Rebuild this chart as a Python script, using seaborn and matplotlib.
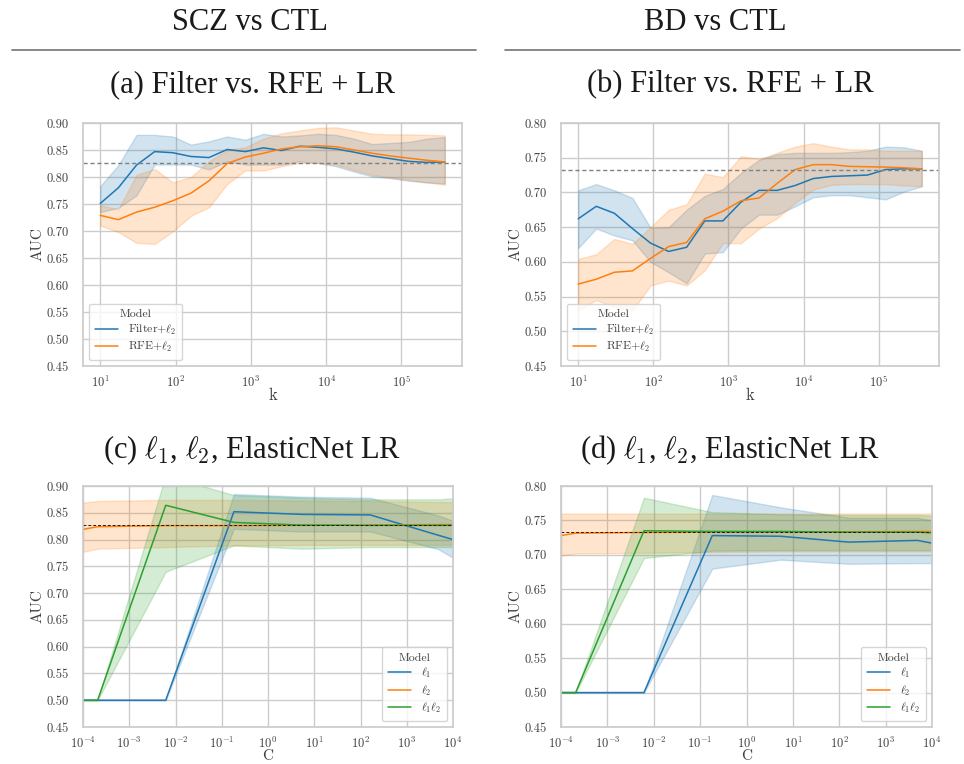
import numpy as np
import pandas as pd
import matplotlib
matplotlib.use("Agg")
import matplotlib.pyplot as plt
import seaborn as sns
from matplotlib.lines import Line2D
from matplotlib.ticker import MultipleLocator, FormatStrFormatter

# ---- data ----
# number of selected features k (top row) and regularisation C (bottom row)
k_vals = [10, 17.4, 30.3, 52.8, 91.9, 160, 278, 485, 844, 1469,
          2558, 4453, 7752, 13500, 23500, 40920, 71250, 124000, 215900, 375800]
c_vals = [1e-4, 2.07e-4, 6.15e-3, 0.183, 5.46, 162.6, 4831, 1e4]

# (a) SCZ vs CTL, Filter vs RFE
filter_a_mean = [0.751, 0.780, 0.822, 0.847, 0.845, 0.838, 0.836, 0.851, 0.847, 0.854,
                 0.849, 0.857, 0.855, 0.852, 0.846, 0.839, 0.834, 0.829, 0.827, 0.828]
filter_a_lo = [0.735, 0.743, 0.766, 0.823, 0.823, 0.823, 0.814, 0.829, 0.823, 0.823,
               0.823, 0.829, 0.826, 0.820, 0.810, 0.801, 0.798, 0.793, 0.790, 0.788]
filter_a_hi = [0.783, 0.822, 0.878, 0.878, 0.875, 0.860, 0.866, 0.875, 0.869, 0.880,
               0.875, 0.877, 0.880, 0.878, 0.871, 0.861, 0.863, 0.865, 0.871, 0.874]
rfe_a_mean = [0.729, 0.721, 0.735, 0.744, 0.756, 0.770, 0.793, 0.825, 0.837, 0.844,
              0.852, 0.856, 0.858, 0.856, 0.850, 0.844, 0.839, 0.835, 0.831, 0.828]
rfe_a_lo = [0.710, 0.698, 0.678, 0.676, 0.699, 0.728, 0.744, 0.787, 0.812, 0.812,
            0.820, 0.826, 0.826, 0.823, 0.813, 0.804, 0.799, 0.795, 0.790, 0.786]
rfe_a_hi = [0.748, 0.740, 0.804, 0.815, 0.790, 0.800, 0.829, 0.850, 0.855, 0.871,
            0.881, 0.886, 0.891, 0.892, 0.886, 0.880, 0.879, 0.879, 0.878, 0.877]

# (b) BD vs CTL, Filter vs RFE
filter_b_mean = [0.662, 0.680, 0.670, 0.648, 0.627, 0.615, 0.621, 0.659, 0.659, 0.686,
                 0.703, 0.703, 0.710, 0.720, 0.723, 0.724, 0.725, 0.733, 0.734, 0.734]
filter_b_lo = [0.620, 0.648, 0.638, 0.631, 0.600, 0.585, 0.569, 0.612, 0.614, 0.648,
               0.668, 0.668, 0.680, 0.693, 0.696, 0.696, 0.693, 0.690, 0.701, 0.709]
filter_b_hi = [0.703, 0.712, 0.703, 0.692, 0.649, 0.650, 0.675, 0.695, 0.705, 0.728,
               0.747, 0.755, 0.757, 0.757, 0.757, 0.758, 0.760, 0.766, 0.765, 0.760]
rfe_b_mean = [0.568, 0.575, 0.585, 0.587, 0.605, 0.622, 0.628, 0.662, 0.673, 0.688,
              0.692, 0.713, 0.733, 0.740, 0.740, 0.7375, 0.737, 0.7365, 0.7355, 0.734]
rfe_b_lo = [0.530, 0.545, 0.535, 0.530, 0.566, 0.573, 0.566, 0.588, 0.627, 0.627,
            0.648, 0.663, 0.685, 0.704, 0.711, 0.712, 0.712, 0.712, 0.710, 0.709]
rfe_b_hi = [0.604, 0.611, 0.633, 0.626, 0.650, 0.675, 0.683, 0.727, 0.722, 0.752,
            0.748, 0.757, 0.766, 0.771, 0.766, 0.762, 0.762, 0.760, 0.760, 0.760]

# (c) SCZ vs CTL, penalties over C
l1_c_mean = [0.5, 0.5, 0.5, 0.852, 0.847, 0.846, 0.808, 0.800]
l1_c_lo = [0.5, 0.5, 0.5, 0.820, 0.815, 0.815, 0.782, 0.766]
l1_c_hi = [0.5, 0.5, 0.5, 0.885, 0.880, 0.878, 0.845, 0.835]
l2_c_mean = [0.819, 0.824, 0.826, 0.826, 0.8265, 0.827, 0.828, 0.828]
l2_c_lo = [0.777, 0.783, 0.786, 0.789, 0.790, 0.790, 0.790, 0.790]
l2_c_hi = [0.869, 0.872, 0.874, 0.874, 0.873, 0.872, 0.870, 0.870]
en_c_mean = [0.5, 0.5, 0.864, 0.832, 0.827, 0.8265, 0.8265, 0.8265]
en_c_lo = [0.5, 0.5, 0.740, 0.789, 0.783, 0.786, 0.786, 0.786]
en_c_hi = [0.5, 0.5, 0.920, 0.883, 0.878, 0.875, 0.875, 0.877]

# (d) BD vs CTL, penalties over C
l1_d_mean = [0.5, 0.5, 0.5, 0.728, 0.727, 0.7185, 0.721, 0.717]
l1_d_lo = [0.5, 0.5, 0.5, 0.680, 0.693, 0.687, 0.688, 0.688]
l1_d_hi = [0.5, 0.5, 0.5, 0.787, 0.769, 0.754, 0.754, 0.750]
l2_d_mean = [0.728, 0.7315, 0.7325, 0.733, 0.733, 0.7335, 0.734, 0.734]
l2_d_lo = [0.699, 0.702, 0.703, 0.704, 0.705, 0.705, 0.705, 0.705]
l2_d_hi = [0.760, 0.760, 0.760, 0.760, 0.760, 0.760, 0.760, 0.760]
en_d_mean = [0.5, 0.5, 0.735, 0.734, 0.734, 0.733, 0.733, 0.732]
en_d_lo = [0.5, 0.5, 0.6955, 0.706, 0.707, 0.707, 0.707, 0.707]
en_d_hi = [0.5, 0.5, 0.783, 0.762, 0.759, 0.758, 0.758, 0.757]

baseline_scz = 0.8265
baseline_bd = 0.733

lbl_filter = r"Filter+$\ell_2$"
lbl_rfe = r"RFE+$\ell_2$"
lbl_l1 = r"$\ell_1$"
lbl_l2 = r"$\ell_2$"
lbl_en = r"$\ell_1\ell_2$"


def long_frame(x, series):
    # three rows per x (lo, mean, hi): median -> line, 0-100 pct interval -> band
    rows = []
    for label, (lo, mid, hi) in series:
        for xv, a, b, c in zip(x, lo, mid, hi):
            for v in (a, b, c):
                rows.append({"x": xv, "AUC": v, "Model": label})
    return pd.DataFrame(rows)


sns.set_theme(style="whitegrid")
plt.rcParams["font.family"] = "serif"
plt.rcParams["font.serif"] = ["cmr10"]
plt.rcParams["mathtext.fontset"] = "cm"
plt.rcParams["axes.formatter.use_mathtext"] = True

fig = plt.figure(figsize=(9.64, 7.64), dpi=100)
W, H = 964, 764


def add_ax(l, r, t, b):
    return fig.add_axes([l / W, 1 - b / H, (r - l) / W, (b - t) / H])


ax_a = add_ax(83, 462, 123, 366)
ax_b = add_ax(561, 939, 123, 366)
ax_c = add_ax(83, 453, 486, 727)
ax_d = add_ax(561, 932, 486, 727)

pal2 = ["#1f77b4", "#ff7f0e"]
pal3 = ["#1f77b4", "#ff7f0e", "#2ca02c"]

panels = [
    (ax_a, k_vals, [(lbl_filter, (filter_a_lo, filter_a_mean, filter_a_hi)),
                    (lbl_rfe, (rfe_a_lo, rfe_a_mean, rfe_a_hi))],
     pal2, baseline_scz, 0.90, "k", "lower left"),
    (ax_b, k_vals, [(lbl_filter, (filter_b_lo, filter_b_mean, filter_b_hi)),
                    (lbl_rfe, (rfe_b_lo, rfe_b_mean, rfe_b_hi))],
     pal2, baseline_bd, 0.80, "k", "lower left"),
    (ax_c, c_vals, [(lbl_l1, (l1_c_lo, l1_c_mean, l1_c_hi)),
                    (lbl_l2, (l2_c_lo, l2_c_mean, l2_c_hi)),
                    (lbl_en, (en_c_lo, en_c_mean, en_c_hi))],
     pal3, baseline_scz, 0.90, "C", "lower right"),
    (ax_d, c_vals, [(lbl_l1, (l1_d_lo, l1_d_mean, l1_d_hi)),
                    (lbl_l2, (l2_d_lo, l2_d_mean, l2_d_hi)),
                    (lbl_en, (en_d_lo, en_d_mean, en_d_hi))],
     pal3, baseline_bd, 0.80, "C", "lower right"),
]

for ax, xs, series, pal, base, ytop, xlab, loc in panels:
    df = long_frame(xs, series)
    ax.set_xscale("log")
    sns.lineplot(data=df, x="x", y="AUC", hue="Model", palette=pal,
                 estimator="median", errorbar=("pi", 100), linewidth=1.1, ax=ax)
    if xlab == "k":
        ax.axhline(base, color="0.5", ls="--", lw=1.0, dashes=(3, 2))
    else:
        ax.axhline(base, color="k", ls="--", lw=0.7, dashes=(3, 2))
        ax.set_xlim(1e-4, 1e4)
    ax.set_ylim(0.45, ytop)
    ax.yaxis.set_major_locator(MultipleLocator(0.05))
    ax.yaxis.set_major_formatter(FormatStrFormatter("%.2f"))
    ax.tick_params(axis="y", labelsize=9, pad=4, colors="0.25")
    ax.tick_params(axis="x", labelsize=9, pad=0, colors="0.25")
    if xlab == "k":
        ax.set_xlabel(xlab, fontsize=12, labelpad=-2, color="0.25")
    else:
        ax.set_xlabel(xlab, fontsize=11, labelpad=-1, color="0.25")
    ax.set_ylabel("AUC", fontsize=11, labelpad=2, color="0.25")
    sns.move_legend(ax, loc, title="Model", fontsize=8.5, title_fontsize=8.5,
                    frameon=True, borderpad=0.5, labelspacing=0.3,
                    handlelength=2.0)
    leg = ax.get_legend()
    leg.get_title().set_color("0.25")
    for t in leg.get_texts():
        t.set_color("0.25")

# headers and panel titles
tfont = dict(family="Liberation Serif", ha="center", va="center", color="0.1")
fig.text(250 / W, 1 - 22 / H, "SCZ vs CTL", fontsize=22, **tfont)
fig.text(715 / W, 1 - 22 / H, "BD vs CTL", fontsize=22, **tfont)
fig.add_artist(Line2D([12 / W, 476 / W], [1 - 50 / H] * 2, color="0.45", lw=1.2))
fig.add_artist(Line2D([505 / W, 960 / W], [1 - 50 / H] * 2, color="0.45", lw=1.2))
fig.text(252 / W, 1 - 85 / H, "(a) Filter vs. RFE + LR", fontsize=22, **tfont)
fig.text(730 / W, 1 - 85 / H, "(b) Filter vs. RFE + LR", fontsize=22, **tfont)
fig.text(252 / W, 1 - 450 / H, r"(c) $\ell_1$, $\ell_2$, ElasticNet LR", fontsize=22, **tfont)
fig.text(730 / W, 1 - 450 / H, r"(d) $\ell_1$, $\ell_2$, ElasticNet LR", fontsize=22, **tfont)

fig.savefig("out.png", dpi=100)
